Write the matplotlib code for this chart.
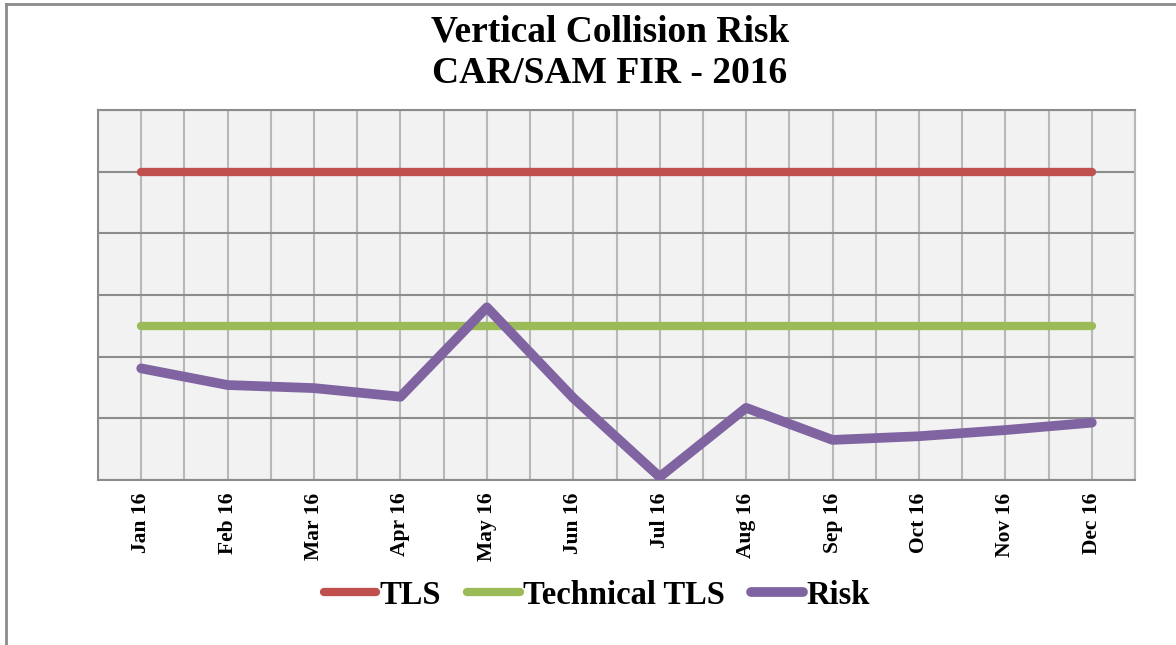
import matplotlib.pyplot as plt
import numpy as np
from matplotlib.lines import Line2D

# dados (escala sem unidade, eixo y oculto)
meses = ['Jan 16', 'Feb 16', 'Mar 16', 'Apr 16', 'May 16', 'Jun 16',
         'Jul 16', 'Aug 16', 'Sep 16', 'Oct 16', 'Nov 16', 'Dec 16']
tls = [5.0] * 12
tls_tecnico = [2.5] * 12
risco = [1.81, 1.54, 1.49, 1.35, 2.80, 1.33, 0.05, 1.17, 0.65, 0.71, 0.81, 0.93]

plt.rcParams['font.family'] = ['Liberation Serif', 'DejaVu Serif']
plt.rcParams['font.weight'] = 'bold'

fig = plt.figure(figsize=(11.76, 6.45), dpi=100)
ax = fig.add_axes([98/1176, 1 - 480/645, (1135 - 98)/1176, (480 - 110)/645])
ax.set_facecolor('#f2f2f2')

x = np.arange(len(meses))
ax.plot(x, tls, color='#c0504d', lw=6, solid_capstyle='round', label='TLS', zorder=3)
ax.plot(x, tls_tecnico, color='#9bbb59', lw=6, solid_capstyle='round', label='Technical TLS', zorder=3)
ax.plot(x, risco, color='#8064a2', lw=7, solid_capstyle='round', label='Risk', zorder=4)

ax.set_xlim(-0.5, len(meses) - 0.5)
ax.set_ylim(0, 6)

ax.set_xticks(x)
ax.set_xticklabels(meses, rotation=90, fontsize=15.5, fontweight='bold')
ax.set_xticks(np.arange(-0.5, len(meses), 1), minor=True)
ax.set_yticks(np.arange(0, 7, 1))
ax.set_yticklabels([])
ax.tick_params(axis='both', which='both', length=0)
ax.tick_params(axis='x', pad=9)

ax.grid(True, axis='x', which='both', color='#b8b8b8', lw=1.5, zorder=1)
ax.grid(True, axis='y', which='major', color='#8c8c8c', lw=1.5, zorder=1)
ax.set_axisbelow(True)
for lado in ['top', 'left', 'bottom', 'right']:
    ax.spines[lado].set_color('#8c8c8c')
    ax.spines[lado].set_linewidth(1.5)
ax.spines['right'].set_color('#b8b8b8')

fig.text(610/1176, 1 - 53/645, 'Vertical Collision Risk\nCAR/SAM FIR - 2016',
         ha='center', va='center', fontsize=27, fontweight='bold', linespacing=1.25)

leg = fig.legend(loc='center', bbox_to_anchor=(597/1176, 1 - 595/645), ncol=3,
                 frameon=False, prop={'size': 23.5, 'weight': 'bold'},
                 handlelength=1.6, handletextpad=0.1, columnspacing=0.8)

# moldura da figura
fig.add_artist(Line2D([6/1176, 6/1176], [0, 1 - 4/645], transform=fig.transFigure,
                      color='#8c8c8c', lw=2))
fig.add_artist(Line2D([6/1176, 1], [1 - 4/645, 1 - 4/645], transform=fig.transFigure,
                      color='#8c8c8c', lw=2))

fig.savefig('out.png', dpi=100)
